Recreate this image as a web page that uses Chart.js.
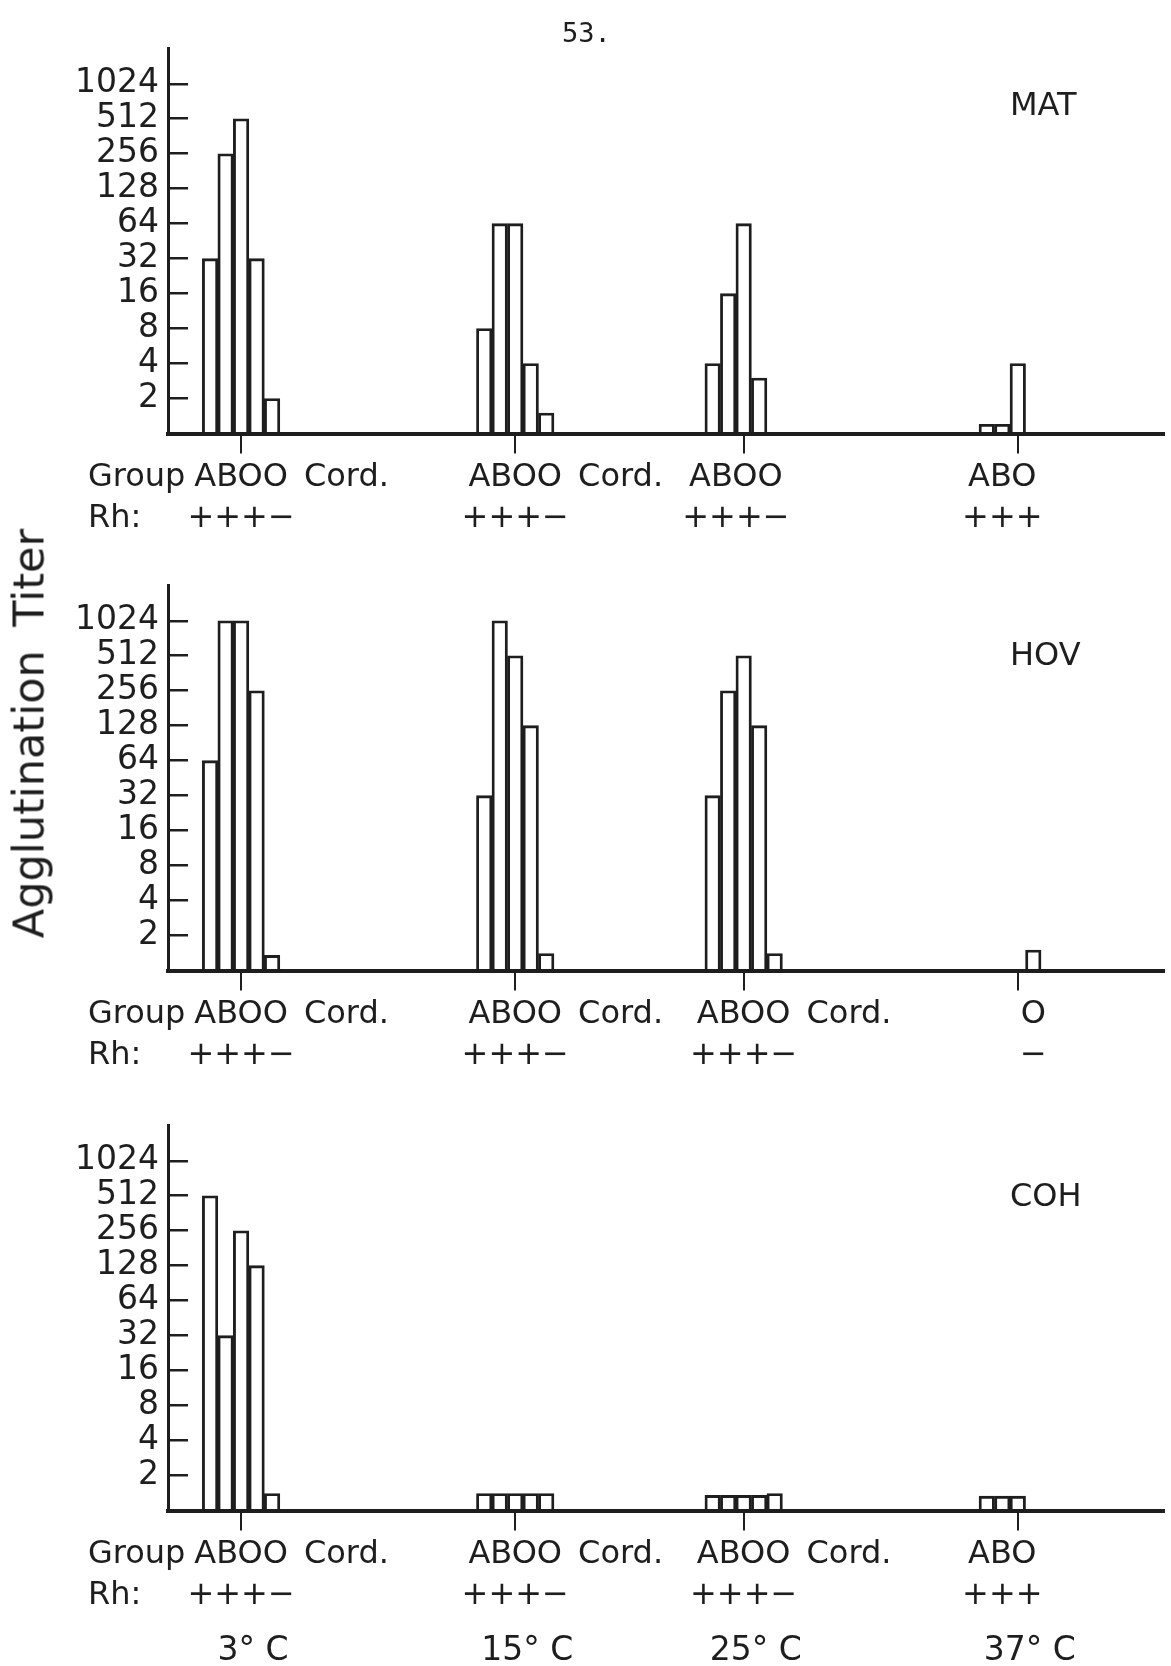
<!DOCTYPE html>
<html lang="en">
<head>
<meta charset="UTF-8">
<title>Agglutination Titer</title>
<script src="https://cdn.jsdelivr.net/npm/chart.js"></script>
<style>
  body { margin: 0; background: #fff; }
  .page { position: relative; width: 1171px; height: 1666px; overflow: hidden; background: #fff; }
  .page canvas { position: absolute; left: 0; }
  #page_number { position: absolute; left: 562px; top: 19px; font: 27px "DejaVu Sans Mono", monospace; line-height: 1; color: #1e1e1e; }
  #y_title { position: absolute; width: 440px; height: 43px; left: -191.5px; top: 711.5px;
             font: 43px "DejaVu Sans"; line-height: 43px; text-align: center; word-spacing: 10px;
             color: #1e1e1e; transform: rotate(-90deg); }
</style>
</head>
<body>
<div class="page">
  <canvas id="panelMAT" width="1171" height="537" style="top:0"></canvas>
  <canvas id="panelHOV" width="1171" height="540" style="top:537px"></canvas>
  <canvas id="panelCOH" width="1171" height="589" style="top:1077px"></canvas>
  <div id="page_number">53.</div>
  <div id="y_title">Agglutination Titer</div>
</div>

<script>
    const ink = '#1e1e1e';

    // temperatures of the tests (x axis is in degrees C)
    const temperatures = [3, 15, 25, 37];
    const temperatureLabels = ['3° C', '15° C', '25° C', '37° C'];
    const titerTicks = [2, 4, 8, 16, 32, 64, 128, 256, 512, 1024];
    const cellNames = ['A', 'B', 'O', 'O', 'Cord.'];

    // serum MAT
    const matA = [32, 8, 4, 1.2];
    const matB = [256, 64, 16, 1.2];
    const matO = [512, 64, 64, 4];
    const matONeg = [32, 4, 3, null];
    const matCord = [2, 1.5, null, null];
    const matGroups = ['ABOO Cord.', 'ABOO Cord.', 'ABOO', 'ABO'];
    const matRh = ['+++−', '+++−', '+++−', '+++'];

    // serum HOV
    const hovA = [64, 32, 32, null];
    const hovB = [1024, 1024, 256, null];
    const hovO = [1024, 512, 512, null];
    const hovONeg = [256, 128, 128, 1.5];
    const hovCord = [1.35, 1.4, 1.4, null];
    const hovGroups = ['ABOO Cord.', 'ABOO Cord.', 'ABOO Cord.', 'O'];
    const hovRh = ['+++−', '+++−', '+++−', '−'];

    // serum COH
    const cohA = [512, 1.4, 1.35, 1.33];
    const cohB = [32, 1.4, 1.35, 1.33];
    const cohO = [256, 1.4, 1.35, 1.33];
    const cohONeg = [128, 1.4, 1.35, null];
    const cohCord = [1.4, 1.4, 1.4, null];
    const cohGroups = ['ABOO Cord.', 'ABOO Cord.', 'ABOO Cord.', 'ABO'];
    const cohRh = ['+++−', '+++−', '+++−', '+++'];

    // labels under the axis, serum name and temperatures
    const panelText = {
        id: 'panelText',
        afterDraw(chart, args, opts) {
            const ctx = chart.ctx;
            const area = chart.chartArea;
            const base = area.bottom;
            ctx.save();
            ctx.fillStyle = ink;
            ctx.textBaseline = 'alphabetic';
            ctx.textAlign = 'left';
            ctx.font = '32px "DejaVu Sans"';
            ctx.fillText('Group', area.left - 80, base + 52);
            ctx.fillText('Rh:', area.left - 80, base + 93);

            opts.groups.forEach(function (label, i) {
                // centre the letters over the bars that are drawn in the group
                let xs = [];
                chart.data.datasets.forEach(function (ds, k) {
                    if (ds.data[i] != null) xs.push(chart.getDatasetMeta(k).data[i].x);
                });
                let mid = xs.reduce((a, b) => a + b, 0) / xs.length;
                let parts = label.split(' ');
                let w = ctx.measureText(parts[0]).width;
                ctx.fillText(parts[0], mid - w / 2, base + 52);
                if (parts.length > 1) {
                    ctx.fillText(parts.slice(1).join(' '), mid + w / 2 + 16, base + 52);
                }
                let rh = opts.rh[i];
                ctx.fillText(rh, mid - ctx.measureText(rh).width / 2, base + 93);
            });

            ctx.font = '32px "DejaVu Sans"';
            ctx.fillText(opts.name, 1010, area.top + opts.nameY);

            if (opts.temps) {
                ctx.font = '33px "DejaVu Sans"';
                ctx.textAlign = 'center';
                temperatures.forEach(function (t, i) {
                    ctx.fillText(temperatureLabels[i], chart.scales.x.getPixelForValue(t) + 12, base + 149);
                });
            }
            ctx.restore();
        }
    };

    function panel(id, name, series, groups, rh, top, nameY, temps) {
        return new Chart(document.getElementById(id), {
            type: 'bar',
            data: {
                labels: temperatures,
                datasets: series.map(function (values, k) {
                    return {
                        label: cellNames[k],
                        data: values,
                        barThickness: 15.5,
                        backgroundColor: 'rgba(0,0,0,0)',
                        borderColor: ink,
                        borderWidth: 2.2
                    };
                })
            },
            options: {
                responsive: false,
                animation: false,
                layout: { padding: { top: top, right: 7, left: 0, bottom: 0 } },
                plugins: {
                    legend: { display: false },
                    tooltip: { enabled: false },
                    panelText: { name: name, groups: groups, rh: rh, nameY: nameY, temps: temps }
                },
                scales: {
                    x: {
                        type: 'linear',
                        min: -0.2,
                        max: 43.4,
                        offset: false,
                        afterBuildTicks: s => { s.ticks = temperatures.map(v => ({ value: v })); },
                        afterFit: s => { s.height = s.chart.height - 433.5; },
                        border: { display: true, color: ink, width: 4 },
                        grid: { display: true, offset: false, drawOnChartArea: false, drawTicks: true,
                                tickLength: 20, color: ink, lineWidth: 2 },
                        ticks: { display: false }
                    },
                    y: {
                        type: 'logarithmic',
                        min: 1,
                        max: 2048,
                        afterBuildTicks: s => { s.ticks = titerTicks.map(v => ({ value: v })); },
                        afterFit: s => { s.width = 168; },
                        border: { display: true, color: ink, width: 3 },
                        grid: { display: true, drawOnChartArea: false, drawTicks: true,
                                tickLength: -20, color: ink, lineWidth: 2.5 },
                        ticks: {
                            autoSkip: false,
                            padding: 29,
                            color: ink,
                            font: { family: 'DejaVu Sans', size: 33 },
                            callback: v => String(v)
                        }
                    }
                }
            },
            plugins: [panelText]
        });
    }

    panel('panelMAT', 'MAT', [matA, matB, matO, matONeg, matCord], matGroups, matRh, 12, 66, false);
    panel('panelHOV', 'HOV', [hovA, hovB, hovO, hovONeg, hovCord], hovGroups, hovRh, 10, 79, false);
    panel('panelCOH', 'COH', [cohA, cohB, cohO, cohONeg, cohCord], cohGroups, cohRh, 9, 80, true);
</script>
</body>
</html>
